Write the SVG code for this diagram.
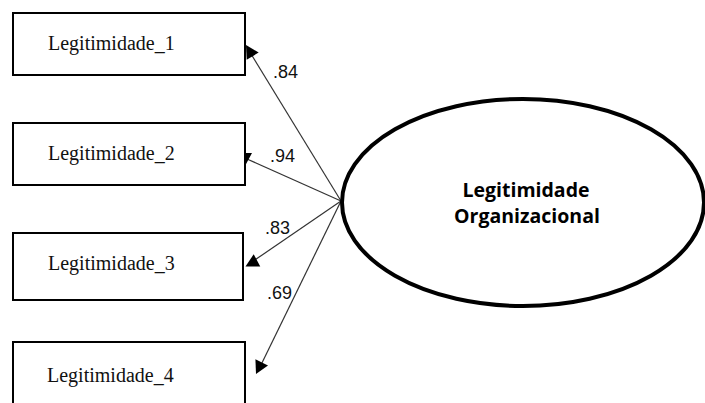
<svg xmlns="http://www.w3.org/2000/svg" xmlns:xlink="http://www.w3.org/1999/xlink" width="705" height="403" viewBox="0 0 705 403">
  <style>
    .box { fill: #ffffff; stroke: #000000; stroke-width: 2; }
    .item { font-family: "Liberation Serif", "Times New Roman", serif; font-size: 20px; fill: #111111; }
    .latent { fill: #ffffff; stroke: #000000; stroke-width: 4; }
    .latent-label { font-family: "Open Sans", "Noto Sans", sans-serif; font-weight: bold; font-size: 19.5px; fill: #000000; text-anchor: middle; }
    .path { stroke: #333333; stroke-width: 1.2; fill: none; }
    .coef { font-family: "Liberation Sans", Arial, sans-serif; font-size: 18px; fill: #111111; }
  </style>
  <defs>
    <!-- arrowhead pointing along +x, tip at the origin -->
    <path id="head" d="M0,0 L-13,-7 L-13,7 Z" fill="#000000"/>
  </defs>
  <rect width="705" height="403" fill="#ffffff"/>

  <g id="connectors">
    <line class="path" x1="341" y1="201" x2="248" y2="49"/>
    <line class="path" x1="341" y1="201" x2="247" y2="159"/>
    <line class="path" x1="341" y1="201" x2="249" y2="264"/>
    <line class="path" x1="341" y1="201" x2="259" y2="369"/>
    <use xlink:href="#head" transform="translate(246,45) rotate(239)"/>
    <use xlink:href="#head" transform="translate(245,166) rotate(90)"/>
    <use xlink:href="#head" transform="translate(245.5,266.5) rotate(152)"/>
    <use xlink:href="#head" transform="translate(256,374) rotate(116)"/>
    <text class="coef" x="273" y="78">.84</text>
    <text class="coef" x="270" y="162">.94</text>
    <text class="coef" x="265" y="234">.83</text>
    <text class="coef" x="267" y="299">.69</text>
  </g>

  <g id="legitimidade-1">
    <rect class="box" x="13" y="13" width="232" height="62"/>
    <text class="item" x="48" y="50">Legitimidade_1</text>
  </g>
  <g id="legitimidade-2">
    <rect class="box" x="13" y="123" width="232" height="62"/>
    <text class="item" x="48" y="160">Legitimidade_2</text>
  </g>
  <g id="legitimidade-3">
    <rect class="box" x="13" y="233" width="230" height="67"/>
    <text class="item" x="48" y="270">Legitimidade_3</text>
  </g>
  <g id="legitimidade-4">
    <rect class="box" x="13" y="342" width="232" height="70"/>
    <text class="item" x="47" y="382">Legitimidade_4</text>
  </g>

  <g id="legitimidade-organizacional">
    <ellipse class="latent" cx="523" cy="202.5" rx="181" ry="103.5"/>
    <text class="latent-label" x="526" y="197">Legitimidade</text>
    <text class="latent-label" x="527" y="223">Organizacional</text>
  </g>
</svg>
